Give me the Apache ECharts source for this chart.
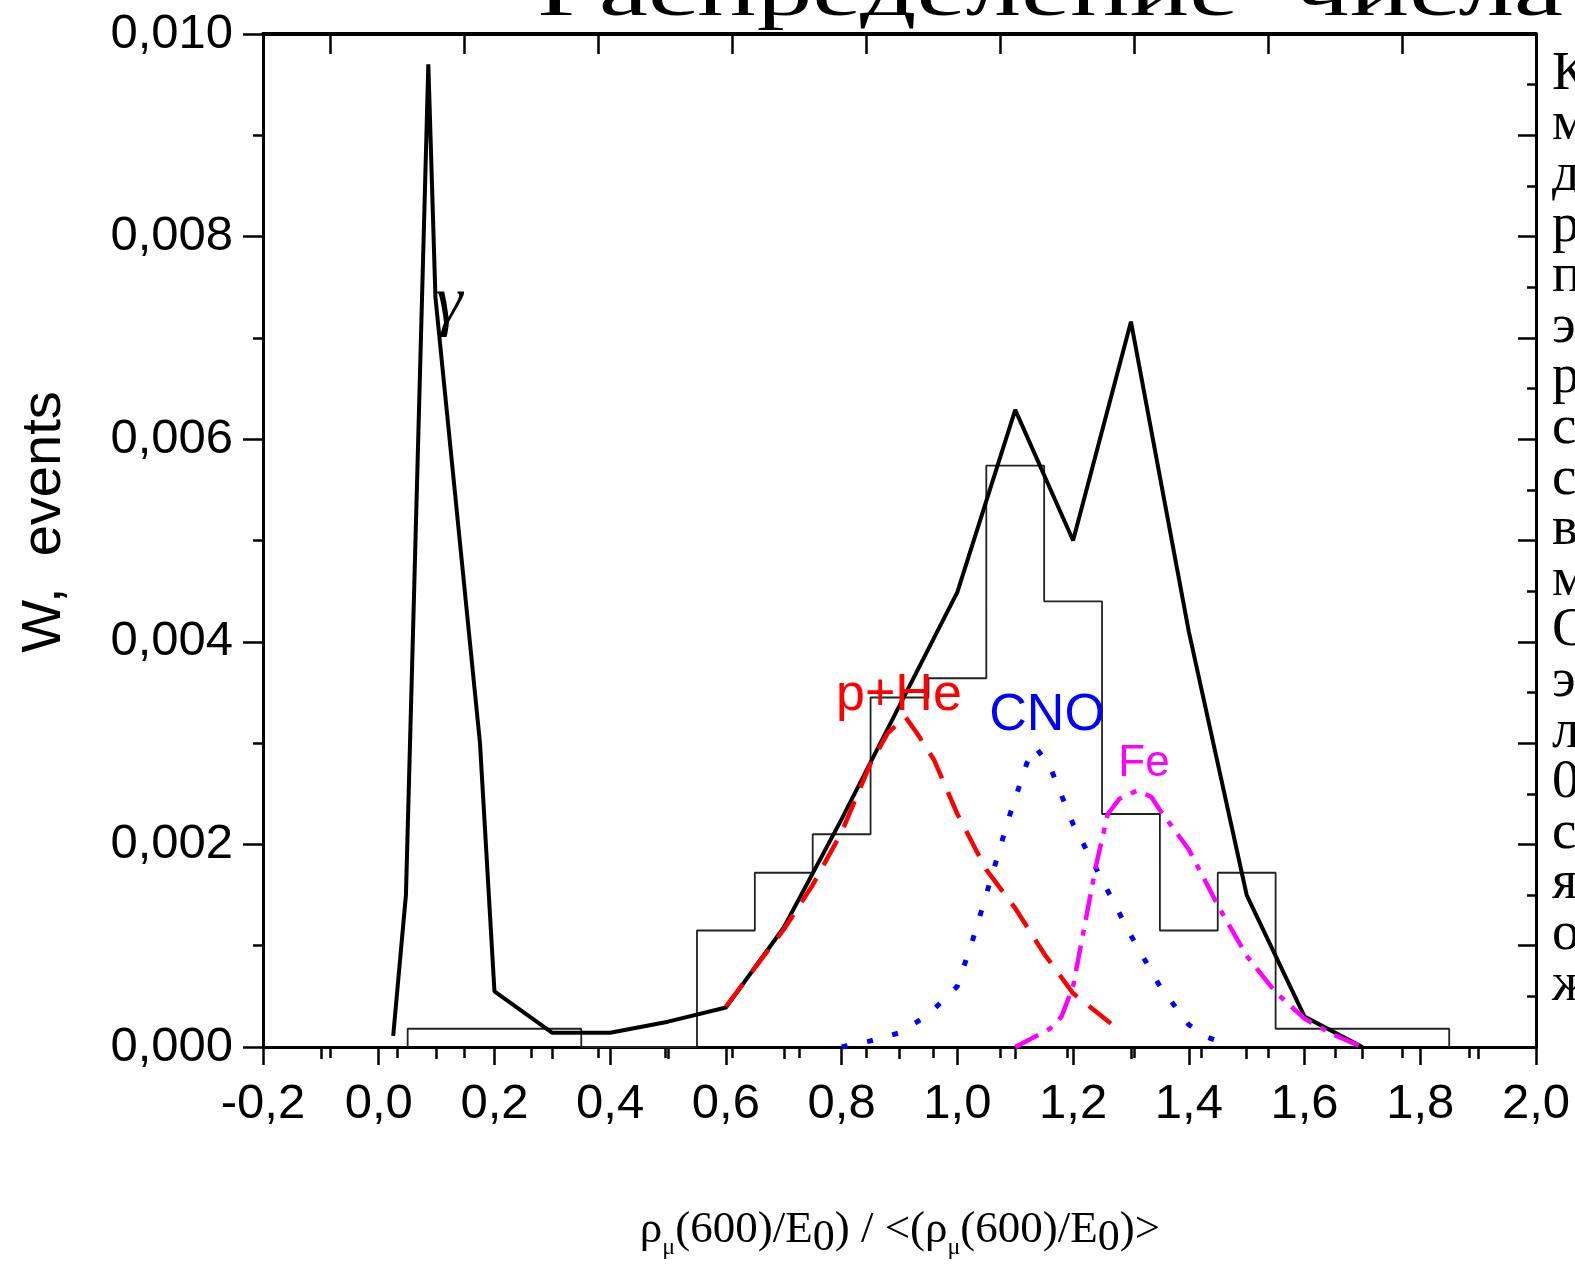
<!DOCTYPE html>
<html><head><meta charset="utf-8">
<script src="https://cdn.jsdelivr.net/npm/echarts@6/dist/echarts.min.js"></script>
<style>html,body{margin:0;padding:0;background:#fff;overflow:hidden}#c{width:1575px;height:1264px}</style>
</head><body><div id="c"></div>
<script>
// ---- data ----
const histEdges = [0.05,0.15,0.25,0.35,0.45,0.55,0.65,0.75,0.85,0.95,1.05,1.15,1.25,1.35,1.45,1.55,1.65,1.75,1.85];
const histHeights = [0.00018,0.00018,0.00018,0,0,0.00115,0.00172,0.0021,0.00345,0.00364,0.00574,0.0044,0.0023,0.00115,0.00172,0.00018,0.00018,0.00018];

const totalX = [0.025,0.047,0.0857,0.098,0.175,0.2,0.3,0.4,0.5,0.6,0.7,0.8,0.9,1.0,1.1,1.2,1.3,1.4,1.5,1.6,1.7];
const totalY = [0.00011,0.0015,0.0097,0.0074,0.003,0.00055,0.00014,0.00014,0.00025,0.00039,0.00118,0.00225,0.00337,0.00449,0.00629,0.005,0.00716,0.0041,0.0015,0.0003,0.0];

const pHeX = [0.6,0.65,0.7,0.75,0.8,0.85,0.88,0.91,0.93,0.96,1.0,1.05,1.1,1.15,1.2,1.27];
const pHeY = [0.0004,0.00078,0.00116,0.0016,0.00212,0.0028,0.0031,0.00326,0.0031,0.00283,0.0023,0.00175,0.00137,0.00092,0.00053,0.00021];

const cnoX = [0.8,0.85,0.9,0.95,1.0,1.03,1.06,1.09,1.12,1.135,1.16,1.2,1.25,1.3,1.35,1.4,1.43,1.47];
const cnoY = [0,0.00006,0.00014,0.00032,0.0006,0.00112,0.0017,0.00228,0.0028,0.00296,0.00277,0.0022,0.00165,0.0011,0.0006,0.00022,0.0001,0.00002];

const feX = [1.1,1.16,1.18,1.2,1.22,1.24,1.26,1.28,1.31,1.335,1.35,1.4,1.45,1.5,1.55,1.6,1.65,1.7];
const feY = [0,0.00018,0.0003,0.0006,0.0012,0.0018,0.0023,0.00245,0.00253,0.00247,0.00234,0.00195,0.0014,0.0009,0.00054,0.00028,0.00012,0];

const annoText = ['γ','p+He','CNO','Fe'];
const annoX = [0.1215, 0.899, 1.155, 1.3226];
const annoY = [0.00732, 0.00347, 0.003274, 0.0028];

const xTicks = { min: -0.2, max: 2.0, step: 0.2 };
const yTicks = { min: 0, max: 0.010, step: 0.002 };

// ---- helpers ----
const zip = (xs, ys) => xs.map((x, i) => [x, ys[i]]);
function histLine() {
  const pts = [[histEdges[0], 0]];
  for (let i = 0; i < histHeights.length; i++) {
    pts.push([histEdges[i], histHeights[i]], [histEdges[i + 1], histHeights[i]]);
  }
  pts.push([histEdges[histEdges.length - 1], 0]);
  return pts;
}
const fmtX = v => (Math.round(v * 10) / 10).toFixed(1).replace('.', ',');
const fmtY = v => (Math.round(v * 1000) / 1000).toFixed(3).replace('.', ',');

const chart = echarts.init(document.getElementById('c'), null, { renderer: 'canvas' });
const blk = '#000';
const lineS = (w) => ({ color: blk, width: w });

const option = {
  animation: false,
  backgroundColor: '#fff',
  grid: { left: 263, right: 39, top: 34, bottom: 217 },
  xAxis: [
    { type: 'value', position: 'bottom', min: xTicks.min, max: xTicks.max, interval: xTicks.step,
      axisLine: { show: true, onZero: false, lineStyle: lineS(3) },
      axisTick: { show: true, inside: false, length: 18, lineStyle: lineS(2.5) },
      minorTick: { show: true, splitNumber: 2, length: 12, lineStyle: lineS(2.5) },
      splitLine: { show: false },
      axisLabel: { margin: 33, color: blk, fontSize: 49, fontFamily: 'Liberation Sans', formatter: fmtX, showMinLabel: true, showMaxLabel: true }
    },
    { type: 'value', position: 'top', min: 0, max: 19, interval: 2, inverse: true,
      axisLine: { show: true, onZero: false, lineStyle: lineS(4) },
      axisTick: { show: true, inside: true, length: 20, lineStyle: lineS(2.5) },
      axisLabel: { show: false }, splitLine: { show: false }
    },
    { type: 'value', position: 'top', min: 0, max: 19, interval: 1,
      axisLine: { show: false },
      axisTick: { show: true, inside: true, length: 11, lineStyle: lineS(2.5) },
      axisLabel: { show: false }, splitLine: { show: false }
    }
  ],
  yAxis: [
    { type: 'value', position: 'left', min: yTicks.min, max: yTicks.max, interval: yTicks.step,
      axisLine: { show: true, onZero: false, lineStyle: lineS(3) },
      axisTick: { show: true, inside: false, length: 20, lineStyle: lineS(2.5) },
      minorTick: { show: true, splitNumber: 2, length: 10, lineStyle: lineS(2.5) },
      splitLine: { show: false },
      axisLabel: { margin: 30, color: blk, fontSize: 49, fontFamily: 'Liberation Sans', formatter: fmtY, showMinLabel: true, showMaxLabel: true }
    },
    { type: 'value', position: 'right', min: 0, max: 0.010, interval: 0.001,
      axisLine: { show: true, onZero: false, lineStyle: lineS(3) },
      axisTick: { show: true, inside: true, length: 18, lineStyle: lineS(2.5) },
      minorTick: { show: true, splitNumber: 2, length: 9, lineStyle: lineS(2.5) },
      axisLabel: { show: false }, splitLine: { show: false }
    }
  ],
  series: [
    { name: 'hist', type: 'line', data: histLine(), symbol: 'none', silent: true,
      lineStyle: { color: '#222', width: 1.8 } },
    { name: 'total', type: 'line', data: zip(totalX, totalY), symbol: 'none', silent: true,
      lineStyle: { color: blk, width: 4 } },
    { name: 'p+He', type: 'line', data: zip(pHeX, pHeY), symbol: 'none', silent: true,
      lineStyle: { color: '#ff0000', width: 4.5, type: [28, 15] } },
    { name: 'CNO', type: 'line', data: zip(cnoX, cnoY), symbol: 'none', silent: true,
      lineStyle: { color: '#0000ff', width: 5, type: [6, 20] } },
    { name: 'Fe', type: 'line', data: zip(feX, feY), symbol: 'none', silent: true,
      lineStyle: { color: '#ff00ff', width: 4.5, type: [26, 10, 6, 10] } }
  ]
};
chart.setOption(option);

const annoStyle = [
  { font: 'italic 68px "Liberation Serif"', fill: '#000' },
  { font: '52px "Liberation Sans"', fill: '#ff0000' },
  { font: '52px "Liberation Sans"', fill: '#0000ff' },
  { font: '44px "Liberation Sans"', fill: '#ff00ff' }
];
const graphics = annoText.map((t, i) => {
  const p = chart.convertToPixel({ xAxisIndex: 0, yAxisIndex: 0 }, [annoX[i], annoY[i]]);
  return { type: 'text', x: p[0], y: p[1], z: 100, silent: true,
    style: Object.assign({ text: t, textAlign: 'center', textVerticalAlign: 'middle' }, annoStyle[i]) };
});

graphics.push(
  { type: 'text', x: 537, y: -3, scaleY: 0.62, silent: true,
    style: { text: 'Распределение  числа', font: '111px "Liberation Serif"', fill: '#000', textAlign: 'left', textVerticalAlign: 'middle' } },
  { type: 'text', x: 1552, y: 49, silent: true,
    style: { text: 'К\nм\nд\nр\nп\nэ\nр\nс\nс\nв\nм\nО\nэ\nл\n0\nс\nя\nо\nж', font: '55px "Liberation Serif"', lineHeight: 50.6, fill: '#000', textAlign: 'left', textVerticalAlign: 'top' } },
  { type: 'text', x: 45, y: 522, rotation: Math.PI / 2, silent: true,
    style: { text: 'W,  events', font: '56px "Liberation Sans"', fill: '#000', textAlign: 'center', textVerticalAlign: 'middle' } },
  { type: 'text', x: 900, y: 1230, silent: true,
    style: {
      text: '{n|ρ}{s|μ}{n|(600)/E}{z|0}{n|) / <(ρ}{s|μ}{n|(600)/E}{z|0}{n|)>}',
      textAlign: 'center', textVerticalAlign: 'middle', fill: '#000',
      rich: {
        n: { fontSize: 45, fontFamily: 'Liberation Serif', lineHeight: 60, verticalAlign: 'middle', fill: '#000' },
        s: { fontSize: 24, fontFamily: 'Liberation Serif', lineHeight: 10, verticalAlign: 'bottom', fill: '#000' },
        z: { fontSize: 44, fontFamily: 'Liberation Serif', lineHeight: 30, verticalAlign: 'bottom', fill: '#000' }
      }
    } }
);
chart.setOption({ graphic: graphics });
</script>
</body></html>
